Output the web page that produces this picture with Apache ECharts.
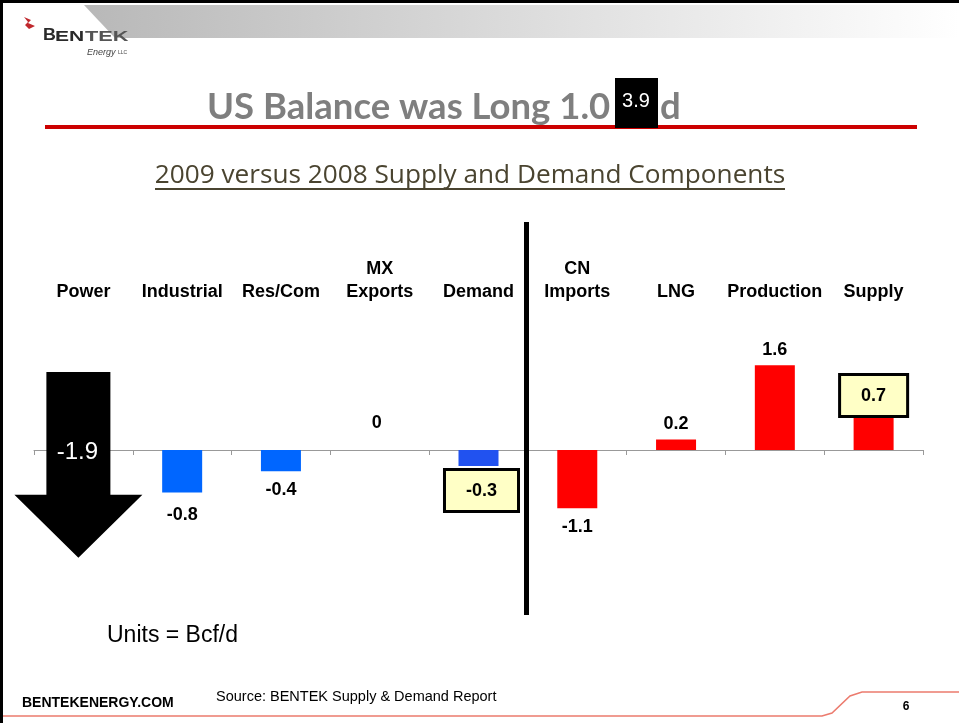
<!DOCTYPE html>
<html>
<head>
<meta charset="UTF-8">
<title>US Balance 2009 vs 2008</title>
<script type="text/javascript" src="https://cdn.jsdelivr.net/npm/echarts@6/dist/echarts.min.js"></script>
<style>
  html, body { margin: 0; padding: 0; background: #fff; }
  #main { width: 959px; height: 723px; }
</style>
</head>
<body>
<div id="main"></div>
<script type="text/javascript">
// categories and 2009 vs 2008 change, Bcf/d
var categories = ['Power', 'Industrial', 'Res/Com', 'MX\nExports', 'Demand', 'CN\nImports', 'LNG', 'Production', 'Supply'];
var values = [-1.9, -0.8, -0.4, 0, -0.3, -1.1, 0.2, 1.6, 0.7];
var barColors = ['#000000', '#0066ff', '#0066ff', '#0066ff', '#2152f0', '#ff0000', '#ff0000', '#ff0000', '#ff0000'];
var boxed = ['Demand', 'Supply'];   // totals shown in yellow boxes
var arrowIndex = 0;                 // Power is drawn as the big black arrow
var headline = 'US Balance was Long 1.0';
var headlineBox = '3.9';

var myChart = echarts.init(document.getElementById('main'));

var barData = values.map(function (v, i) {
    if (i === arrowIndex) return '-';
    var item = { value: v, itemStyle: { color: barColors[i] } };
    var lbl = {
        show: true,
        position: v < 0 ? 'bottom' : 'top',
        distance: v < 0 ? 10 : 6,
        formatter: String(v),
        color: '#000',
        fontFamily: 'Liberation Sans, Arial',
        fontWeight: 'bold',
        fontSize: 18
    };
    if (v === 0) { lbl.distance = 18; lbl.offset = [-3, 0]; }
    if (categories[i] === 'Industrial') lbl.distance = 14;
    if (boxed.indexOf(categories[i]) >= 0) {
        lbl.backgroundColor = '#ffffc6';
        lbl.borderColor = '#000';
        lbl.borderWidth = 3;
        lbl.padding = [11, 20, 10, 20];
        lbl.distance = v < 0 ? 5 : -2;
        lbl.offset = v < 0 ? [3, 0] : [0, 0];
    }
    item.label = lbl;
    return item;
});

var option = {
    animation: false,
    backgroundColor: '#ffffff',
    grid: { left: 34, right: 36, top: 344, height: 212 },
    xAxis: [
        {
            type: 'category',
            data: categories,
            axisLine: { onZero: true, lineStyle: { color: '#999999', width: 1 } },
            axisTick: { show: true, length: 5, lineStyle: { color: '#999999' } },
            axisLabel: { show: false }
        },
        {
            type: 'category',
            data: categories,
            position: 'top',
            axisLine: { show: false },
            axisTick: { show: false },
            axisLabel: {
                interval: 0,
                margin: 40,
                color: '#000',
                fontFamily: 'Liberation Sans, Arial',
                fontWeight: 'bold',
                fontSize: 18,
                lineHeight: 23
            }
        }
    ],
    yAxis: {
        type: 'value', min: -2, max: 2, interval: 1,
        show: false, splitLine: { show: false }
    },
    series: [
        {
            type: 'bar',
            data: barData,
            barWidth: 40,
            z: 3
        },
        {
            type: 'custom',
            data: [[arrowIndex, values[arrowIndex]]],
            z: 4,
            renderItem: function (params, api) {
                var zero = api.coord([api.value(0), 0]);
                var end = api.coord([api.value(0), api.value(1)]);
                var cx = zero[0] - 5;
                var top = zero[1] - 78;
                var tip = end[1] + 7;
                var neck = tip - 63;
                return {
                    type: 'group',
                    children: [
                        {
                            type: 'polygon',
                            shape: { points: [
                                [cx - 32, top], [cx + 32, top], [cx + 32, neck], [cx + 64, neck],
                                [cx, tip], [cx - 64, neck], [cx - 32, neck]
                            ] },
                            style: { fill: '#000' }
                        },
                        {
                            type: 'text',
                            x: cx - 1, y: zero[1] + 2,
                            style: {
                                text: String(api.value(1)),
                                fill: '#fff',
                                font: '24px "Liberation Sans", Arial',
                                align: 'center', verticalAlign: 'middle'
                            }
                        }
                    ]
                };
            }
        }
    ],
    graphic: [
        // slide frame
        { type: 'rect', shape: { x: 0, y: 0, width: 959, height: 3 }, style: { fill: '#000' } },
        { type: 'rect', shape: { x: 0, y: 0, width: 3, height: 723 }, style: { fill: '#000' } },
        // header banner
        {
            type: 'polygon',
            shape: { points: [[84, 5], [959, 5], [959, 38], [115, 38]] },
            style: { fill: new echarts.graphic.LinearGradient(0, 0, 1, 0, [
                { offset: 0, color: '#b8b8b8' }, { offset: 0.5, color: '#dcdcdc' }, { offset: 1, color: '#ffffff' }
            ]) }
        },
        // logo
        { type: 'polygon', shape: { points: [[24, 17], [31, 20], [28, 23], [35, 26], [29, 29], [25, 25], [28, 22]] }, style: { fill: '#c0282d' } },
        { type: 'text', x: 43, y: 44, scaleX: 1.05, style: { text: 'B', font: 'bold 17px "Liberation Sans", Arial', fill: '#2a2a2a', verticalAlign: 'bottom' } },
        { type: 'text', x: 55, y: 44, scaleX: 1.5, style: { text: 'EN', font: 'bold 14px "Liberation Sans", Arial', fill: '#2a2a2a', verticalAlign: 'bottom' } },
        { type: 'text', x: 85, y: 44, scaleX: 1.55, style: { text: 'TEK', font: 'bold 14px "Liberation Sans", Arial', fill: '#555555', verticalAlign: 'bottom' } },
        { type: 'text', x: 87, y: 52, style: { text: 'Energy', font: 'italic 9px "Liberation Sans", Arial', fill: '#444', verticalAlign: 'middle' } },
        { type: 'text', x: 118, y: 53, style: { text: 'LLC', font: '5px "Liberation Sans", Arial', fill: '#444', verticalAlign: 'middle' } },
        // title
        { type: 'text', x: 207, y: 107, style: { text: headline, font: 'bold 36.5px Lato', fill: '#7f7f7f', verticalAlign: 'middle' } },
        { type: 'text', x: 660, y: 107, style: { text: 'd', font: 'bold 36.5px Lato', fill: '#7f7f7f', verticalAlign: 'middle' } },
        { type: 'rect', shape: { x: 45, y: 125, width: 872, height: 4 }, style: { fill: '#cc0000' } },
        { type: 'rect', shape: { x: 615, y: 78, width: 43, height: 50 }, style: { fill: '#000' } },
        { type: 'text', x: 636, y: 101, style: { text: headlineBox, font: '20px "Liberation Sans", Arial', fill: '#fff', align: 'center', verticalAlign: 'middle' } },
        // subtitle
        { type: 'text', x: 470, y: 176, style: { text: '2009 versus 2008 Supply and Demand Components', font: '26.2px "Open Sans"', fill: '#4a4430', align: 'center', verticalAlign: 'middle' } },
        { type: 'rect', shape: { x: 155, y: 188, width: 630, height: 2 }, style: { fill: '#4a4430' } },
        // demand / supply separator
        { type: 'rect', shape: { x: 524, y: 222, width: 5, height: 393 }, style: { fill: '#000' }, z: 10 },
        // units
        { type: 'text', x: 107, y: 636, style: { text: 'Units = Bcf/d', font: '23px "Liberation Sans", Arial', fill: '#000', verticalAlign: 'middle' } },
        // footer
        { type: 'polyline', shape: { points: [[3, 716], [822, 716], [832, 713], [850, 696], [862, 692], [959, 692]] }, style: { stroke: '#ec7b6e', lineWidth: 1.5, fill: null } },
        { type: 'text', x: 22, y: 703, style: { text: 'BENTEKENERGY.COM', font: 'bold 14px "Liberation Sans", Arial', fill: '#000', verticalAlign: 'middle' } },
        { type: 'text', x: 216, y: 697, style: { text: 'Source: BENTEK Supply & Demand Report', font: '14.5px "Liberation Sans", Arial', fill: '#000', verticalAlign: 'middle' } },
        { type: 'text', x: 906, y: 707, style: { text: '6', font: 'bold 12px "Liberation Sans", Arial', fill: '#000', align: 'center', verticalAlign: 'middle' } }
    ]
};

myChart.setOption(option);
</script>
</body>
</html>
